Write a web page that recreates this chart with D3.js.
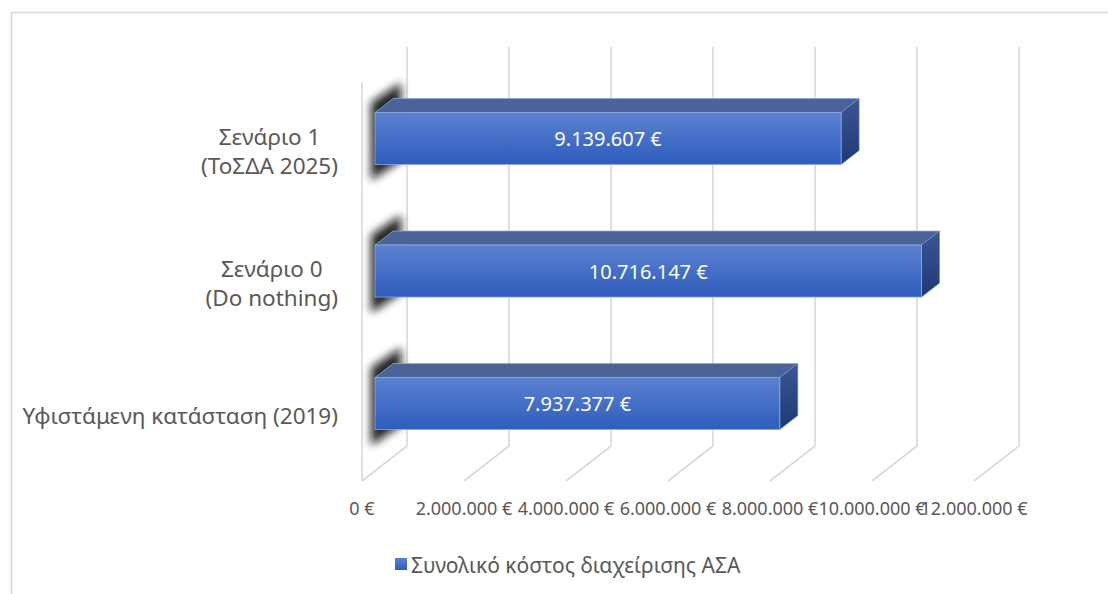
<!DOCTYPE html>
<html>
<head>
<meta charset="utf-8">
<script src="https://cdn.jsdelivr.net/npm/d3@7"></script>
<style>
html,body{margin:0;padding:0;background:#fff;}
svg{display:block;}
text{font-family:"Noto Sans","Open Sans","DejaVu Sans",sans-serif;}
</style>
</head>
<body>
<script>
// ---- data ----
const categories = ["Σενάριο 1\n(ΤοΣΔΑ 2025)", "Σενάριο 0\n(Do nothing)", "Υφιστάμενη κατάσταση (2019)"];
const values = [9139607, 10716147, 7937377];
const seriesName = "Συνολικό κόστος διαχείρισης ΑΣΑ";
const tickValues = [0, 2000000, 4000000, 6000000, 8000000, 10000000, 12000000];
const tickLabels = ["0 €", "2.000.000 €", "4.000.000 €", "6.000.000 €", "8.000.000 €", "10.000.000 €", "12.000.000 €"];
const valueLabels = ["9.139.607 €", "10.716.147 €", "7.937.377 €"];

const W = 1108, H = 594;
const svg = d3.select("body").append("svg").attr("width", W).attr("height", H);

// chart border
svg.append("rect").attr("x", 11.5).attr("y", 12.5).attr("width", 1200).attr("height", 700)
  .attr("fill", "none").attr("stroke", "#d9d9d9").attr("stroke-width", 1.5);

const defs = svg.append("defs");
const gF = defs.append("linearGradient").attr("id", "gFront").attr("x1", 0).attr("y1", 0).attr("x2", 0).attr("y2", 1);
gF.append("stop").attr("offset", "0%").attr("stop-color", "#5c81d1");
gF.append("stop").attr("offset", "100%").attr("stop-color", "#2e5dbd");
const gR = defs.append("linearGradient").attr("id", "gRight").attr("x1", 0).attr("y1", 0).attr("x2", 0).attr("y2", 1);
gR.append("stop").attr("offset", "0%").attr("stop-color", "#3b5693");
gR.append("stop").attr("offset", "100%").attr("stop-color", "#1e3a74");
const gL = defs.append("linearGradient").attr("id", "gLeg").attr("x1", 0).attr("y1", 0).attr("x2", 0).attr("y2", 1);
gL.append("stop").attr("offset", "0%").attr("stop-color", "#5c81d1");
gL.append("stop").attr("offset", "100%").attr("stop-color", "#2e5dbd");
const blur = defs.append("filter").attr("id", "blur").attr("x", "-50%").attr("y", "-50%").attr("width", "200%").attr("height", "200%");
blur.append("feGaussianBlur").attr("stdDeviation", 4.5);

// geometry of 3D projection
const frontX0 = 362, backX0 = 407;   // x of value 0 at front / back of floor
const depthDX = 45, depthDY = 35;    // back->front shift
const wallTop = 47, wallBottom = 446;
const x = d3.scaleLinear().domain([0, 12000000]).range([0, 612]);

const y = d3.scaleBand().domain(categories).range([72.3, 72.3 + 3 * 132.5])
  .paddingInner(0.6075).paddingOuter(0.30375);

// gridlines (back wall + floor)
const grid = svg.append("g").attr("stroke", "#d9d9d9").attr("stroke-width", 1.6).attr("fill", "none");
tickValues.forEach(v => {
  const bx = backX0 + x(v), fx = frontX0 + x(v);
  grid.append("polyline").attr("points", `${bx},${wallTop} ${bx},${wallBottom} ${fx},${wallBottom + depthDY}`);
});
// left wall front edge
grid.append("line").attr("x1", frontX0).attr("x2", frontX0).attr("y1", wallTop + depthDY).attr("y2", wallBottom + depthDY);

// bars (middle depth)
const barFront = 13, barBack = 31;   // depth offsets from front edge
const bdx = barBack - barFront, bdy = bdx * depthDY / depthDX;
const bars = svg.append("g");
categories.forEach((c, i) => {
  const yT = y(c), yB = yT + y.bandwidth();
  const x0 = frontX0 + barFront, x1 = x0 + x(values[i]);
  const g = bars.append("g");
  // shadow at left
  g.append("polygon")
    .attr("points", `${x0 - 4},${yT - 10} ${x0 + bdx + 8},${yT - 30} ${x0 + bdx + 8},${yB - 4} ${x0 - 4},${yB + 16}`)
    .attr("fill", "#111").attr("opacity", 0.9).attr("filter", "url(#blur)");
  // top face
  g.append("polygon")
    .attr("points", `${x0},${yT} ${x0 + bdx},${yT - bdy} ${x1 + bdx},${yT - bdy} ${x1},${yT}`)
    .attr("fill", "#4a6399").attr("stroke", "#8ea6d6").attr("stroke-width", 0.8);
  // right face
  g.append("polygon")
    .attr("points", `${x1},${yT} ${x1 + bdx},${yT - bdy} ${x1 + bdx},${yB - bdy} ${x1},${yB}`)
    .attr("fill", "url(#gRight)").attr("stroke", "#6f8cc8").attr("stroke-width", 0.6);
  // front face
  g.append("rect").attr("x", x0).attr("y", yT).attr("width", x1 - x0).attr("height", yB - yT)
    .attr("fill", "url(#gFront)").attr("stroke", "#8eaadf").attr("stroke-width", 0.8);
  // value label
  g.append("text").attr("x", (x0 + x1) / 2).attr("y", (yT + yB) / 2)
    .attr("text-anchor", "middle").attr("dominant-baseline", "central")
    .attr("fill", "#ffffff").attr("font-size", 20).text(valueLabels[i]);
});

// category labels
const catG = svg.append("g");
categories.forEach((c, i) => {
  const lines = c.split("\n");
  const cy = y(c) + y.bandwidth() / 2 + 12;
  const lh = 29;
  const t = catG.append("text").attr("fill", "#595959").attr("font-size", 22.5).attr("text-anchor", "middle");
  lines.forEach((ln, j) => {
    t.append("tspan").attr("x", 0).attr("y", cy + (j - (lines.length - 1) / 2) * lh)
      .attr("dominant-baseline", "central").text(ln);
  });
  const w = t.node().getBBox().width;
  t.selectAll("tspan").attr("x", 338 - w / 2);
});

// value axis tick labels (front)
const axG = svg.append("g");
tickValues.forEach((v, i) => {
  axG.append("text").attr("x", frontX0 + x(v)).attr("y", 508)
    .attr("text-anchor", "middle").attr("dominant-baseline", "central")
    .attr("fill", "#595959").attr("font-size", 18).text(tickLabels[i]);
});

// legend
const leg = svg.append("g");
leg.append("rect").attr("x", 395).attr("y", 558).attr("width", 12).attr("height", 12).attr("fill", "url(#gLeg)");
leg.append("text").attr("x", 411).attr("y", 564.5).attr("dominant-baseline", "central")
  .attr("fill", "#595959").attr("font-size", 21).text(seriesName);
</script>
</body>
</html>
